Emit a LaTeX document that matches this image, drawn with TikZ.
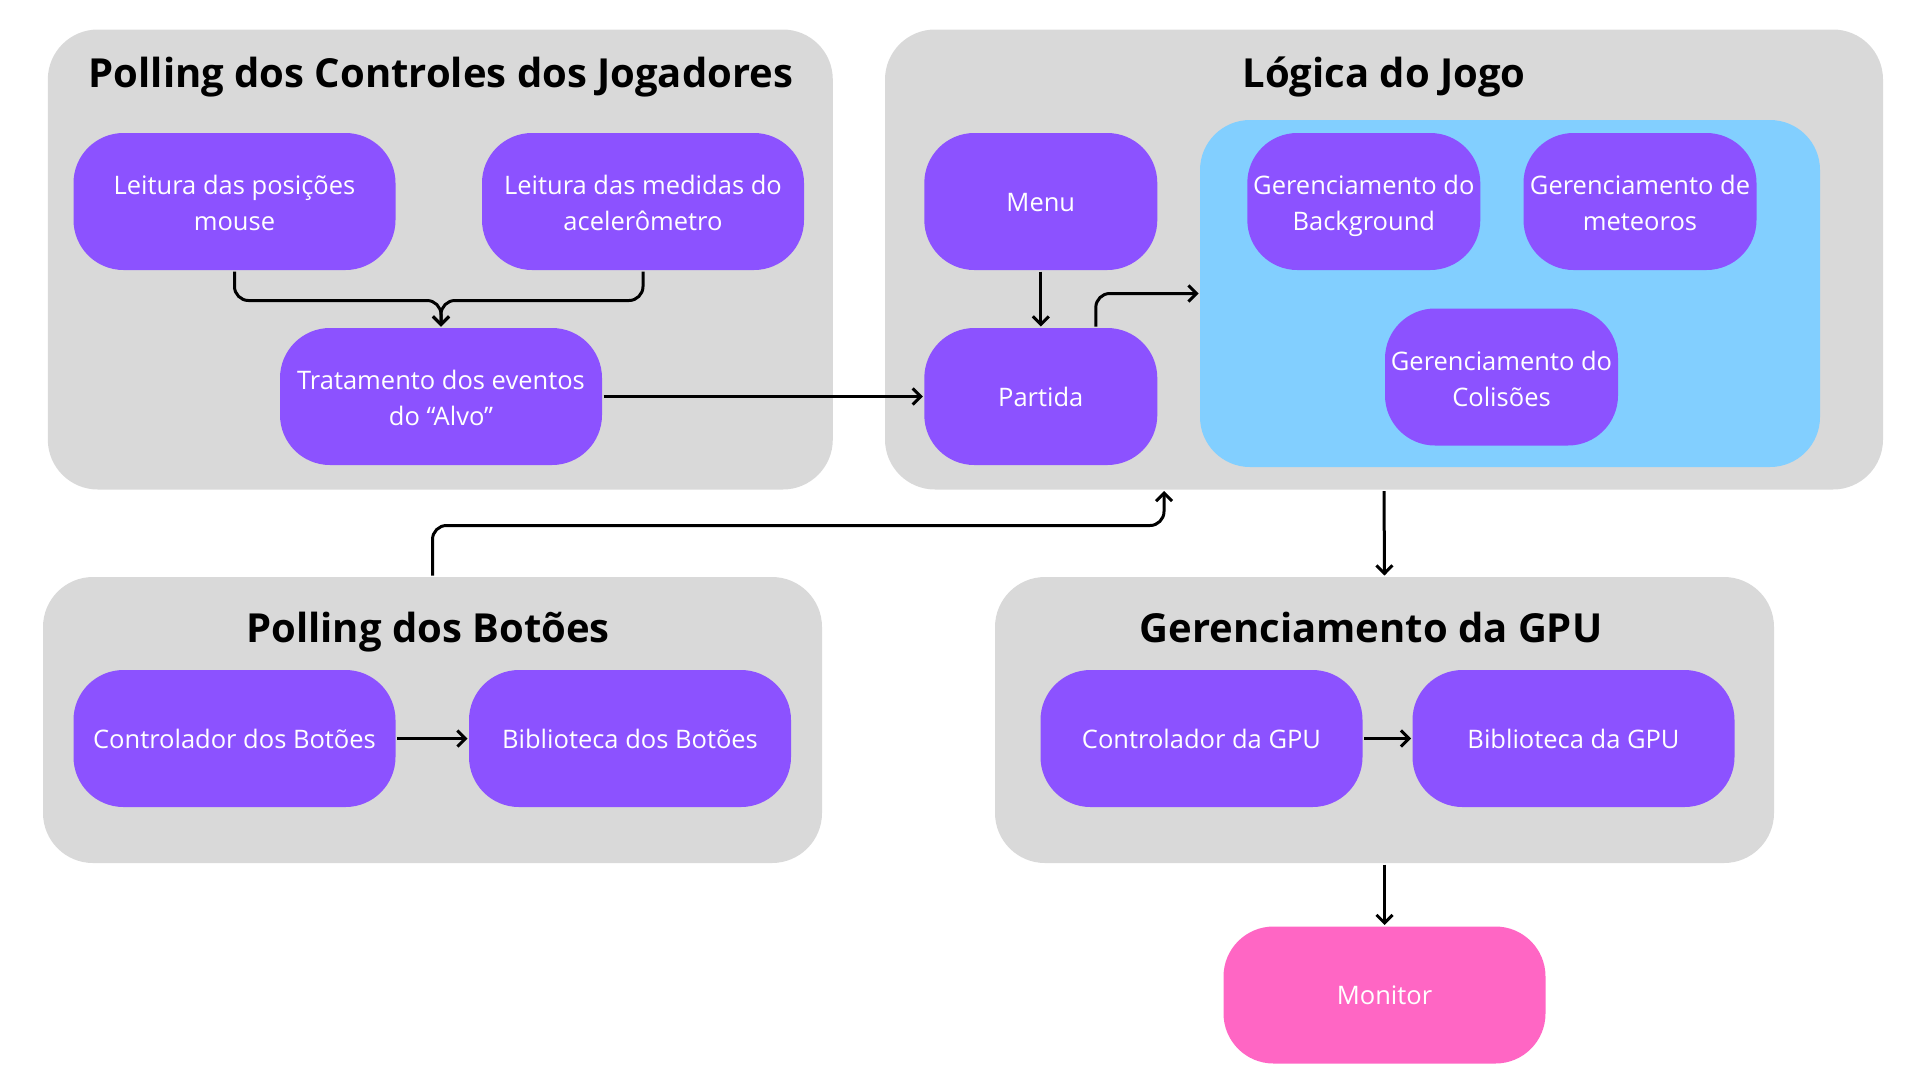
\documentclass[tikz,border=0pt]{standalone}
\usepackage{fontspec}
\setmainfont{Open Sans}
\usepackage{tikz}
\usetikzlibrary{arrows.meta,positioning,calc}

\definecolor{cinza}{HTML}{D9D9D9}
\definecolor{roxo}{HTML}{8C52FF}
\definecolor{azul}{HTML}{82CFFF}
\definecolor{rosa}{HTML}{FF66C4}

\newcommand{\escora}{\rule[-8pt]{0pt}{35pt}}
\newcommand{\alto}{\rule{0pt}{30.5pt}}

\begin{document}
\begin{tikzpicture}[x=1pt,y=-1pt,line width=3pt,
    grupo/.style={fill=cinza,rounded corners=50pt,inner sep=0pt},
    titulo/.style={font=\fontsize{40}{48}\selectfont\bfseries,text=black},
    bloco/.style={fill=roxo,rounded corners=50pt,text=white,align=center,
      minimum width=322pt,minimum height=137pt,inner sep=0pt,
      font=\fontsize{25.5}{36}\selectfont,
      execute at begin node=\escora,execute at end node=\escora},
    estreito/.style={bloco,minimum width=233pt},
    seta/.style={draw=black,-{Straight Barb[length=8pt,width=16pt]},rounded corners=14pt}]

        \useasboundingbox (0,0) rectangle (1920,1080);

        % caixas cinzas
        \node[grupo,minimum width=785pt,minimum height=460pt] (grupoControles) at (440.3,259.5) {};
        \node[grupo,minimum width=998pt,minimum height=460pt] (grupoLogica) at (1384,259.5) {};
        \node[grupo,minimum width=779pt,minimum height=286pt] (grupoBotoes) at (432.5,720) {};
        \node[grupo,minimum width=779pt,minimum height=286pt] (grupoGPU) at (1384.5,720) {};
        \node[fill=azul,rounded corners=50pt,inner sep=0pt,
          minimum width=620pt,minimum height=347pt] (logicaAzul) at (1510,293.5) {};

        % titulos
        \node[titulo] (tituloControles) at (441,77) {Polling dos Controles dos Jogadores};
        \node[titulo] (tituloLogica) at (1384,77) {Lógica do Jogo};
        \node[titulo] (tituloBotoes) at (428,632) {Polling dos Botões};
        \node[titulo] (tituloGPU) at (1371,627.5) {Gerenciamento da GPU};

        % blocos
        \node[bloco] (leitMouse) at (234.5,201.5) {\alto Leitura das posições\\mouse};
        \node[bloco] (leitAcel) at (643,201.5) {\alto Leitura das medidas do\\acelerômetro};
        \node[bloco] (tratamento) at (441,396.5) {\alto Tratamento dos eventos\\do “Alvo”};

        \node[estreito] (menu) at (1040.8,201.5) {Menu};
        \node[estreito] (partida) at (1040.8,396.5) {Partida};
        \node[estreito] (gerBack) at (1363.8,201.5) {\alto Gerenciamento do\\Background};
        \node[estreito] (gerMet) at (1640,201.5) {\alto Gerenciamento de\\meteoros};
        \node[estreito] (gerCol) at (1501.5,377) {\alto Gerenciamento do\\Colisões};

        \node[bloco] (ctrlBot) at (234.5,738.5) {Controlador dos Botões};
        \node[bloco] (bibBot) at (630,738.5) {Biblioteca dos Botões};
        \node[bloco] (ctrlGPU) at (1201.5,738.5) {Controlador da GPU};
        \node[bloco] (bibGPU) at (1573.5,738.5) {Biblioteca da GPU};

        \node[bloco,fill=rosa] (monitor) at (1384.5,995) {Monitor};

        % setas
        \draw[seta] (leitMouse.south) -- ++(0,29) -| (tratamento.north);
        \draw[seta] (leitAcel.south) -- ++(0,29) -| (tratamento.north);
        \draw[seta] (tratamento.east) -- (partida.west);
        \draw[seta] (menu.south) -- (partida.north);
        \draw[seta] ([xshift=55pt]partida.north) |- (logicaAzul.west);
        \draw[seta] (grupoBotoes.north) -- ++(0,-50) -| ([xshift=-220pt]grupoLogica.south);
        \draw[seta] (grupoLogica.south) -- (grupoGPU.north);
        \draw[seta] (ctrlBot.east) -- (bibBot.west);
        \draw[seta] (ctrlGPU.east) -- (bibGPU.west);
        \draw[seta] (grupoGPU.south) -- (monitor.north);

      \end{tikzpicture}
\end{document}
